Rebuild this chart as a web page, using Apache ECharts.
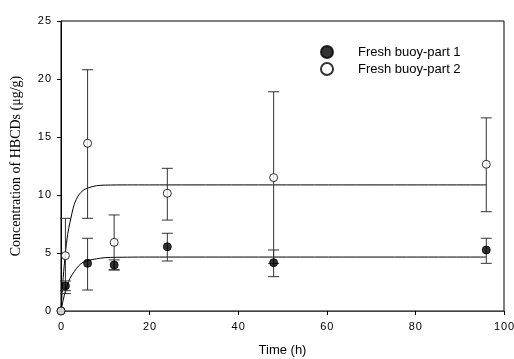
<!DOCTYPE html>
<html>
<head>
<meta charset="utf-8">
<script src="https://cdn.jsdelivr.net/npm/echarts@6/dist/echarts.min.js"></script>
<style>
  html, body { margin: 0; padding: 0; background: #fff; }
  #chart { width: 514px; height: 359px; }
</style>
</head>
<body>
<div id="chart"></div>
<script>
  // 采样时间 (h)
  var times = [0, 1, 6, 12, 24, 48, 96];

  // part 1 (实心点)
  var part1 = [0, 2.16, 4.11, 3.97, 5.54, 4.17, 5.26];
  var part1Low = [0, 1.75, 1.81, 3.53, 4.31, 2.96, 4.11];
  var part1High = [0, 2.59, 6.27, 4.41, 6.70, 5.26, 6.27];

  // part 2 (空心点)
  var part2 = [0, 4.77, 14.46, 5.92, 10.15, 11.5, 12.65];
  var part2Low = [0, 1.5, 7.99, 3.56, 7.84, 4.1, 8.56];
  var part2High = [0, 7.99, 20.8, 8.28, 12.3, 18.9, 16.65];

  // 拟合曲线
  var fitTime = [0, 0.5, 1, 1.5, 2, 3, 4, 5, 6, 8, 10, 15, 20, 96];
  var fit1 = [0, 0.95, 1.7, 2.3, 2.8, 3.4, 3.9, 4.2, 4.35, 4.5, 4.6, 4.64, 4.65, 4.65];
  var fit2 = [0, 2.9, 5.0, 6.6, 7.6, 9.2, 10.0, 10.4, 10.6, 10.8, 10.85, 10.87, 10.87, 10.87];

  var legendNames = ['Fresh buoy-part 1', 'Fresh buoy-part 2'];

  function pairs(xs, ys) {
    return xs.map(function (x, i) { return [x, ys[i]]; });
  }
  function bars(low, high) {
    return times.map(function (t, i) { return [t, low[i], high[i]]; });
  }
  // 刻度数字字间距
  function spaced(v) {
    return String(v).split('').join('\u200A');
  }

  function errorBar(params, api) {
    var lo = api.value(1), hi = api.value(2);
    if (lo === hi) return null;
    var a = api.coord([api.value(0), lo]);
    var b = api.coord([api.value(0), hi]);
    var w = 5.5;
    var st = { stroke: '#333', lineWidth: 1 };
    return {
      type: 'group',
      children: [
        { type: 'line', shape: { x1: a[0], y1: a[1], x2: b[0], y2: b[1] }, style: st },
        { type: 'line', shape: { x1: a[0] - w, y1: a[1], x2: a[0] + w, y2: a[1] }, style: st },
        { type: 'line', shape: { x1: b[0] - w, y1: b[1], x2: b[0] + w, y2: b[1] }, style: st }
      ]
    };
  }

  var myCharts = echarts.init(document.getElementById('chart'));

  var option = {
    animation: false,
    backgroundColor: '#fff',
    grid: {
      left: 61, right: 10, top: 21, bottom: 48,
      outerBoundsMode: 'none',
      containLabel: false,
      show: true, borderColor: '#000', borderWidth: 1
    },
    legend: {
      orient: 'vertical',
      left: 315, top: 40,
      itemGap: 3,
      itemWidth: 12, itemHeight: 12,
      data: legendNames,
      textStyle: {
        fontFamily: 'Liberation Sans, Arial, sans-serif',
        fontSize: 13, color: '#000',
        padding: [0, 0, 0, 20]
      }
    },
    xAxis: {
      type: 'value',
      min: 0, max: 100, interval: 20,
      name: 'Time (h)',
      nameLocation: 'middle',
      nameGap: 33,
      nameTextStyle: { fontFamily: 'Liberation Sans, Arial, sans-serif', fontSize: 13, color: '#000' },
      axisLine: { lineStyle: { color: '#444' } },
      axisTick: { inside: false, length: 4, lineStyle: { color: '#000' } },
      axisLabel: { margin: 10, fontFamily: 'Liberation Sans, Arial, sans-serif', fontSize: 11, color: '#000', formatter: spaced },
      splitLine: { show: false }
    },
    yAxis: {
      type: 'value',
      min: 0, max: 25, interval: 5,
      name: 'Concentration of HBCDs (μg/g)',
      nameLocation: 'middle',
      nameGap: 38,
      nameTextStyle: { fontFamily: 'Liberation Serif, Times New Roman, serif', fontSize: 14, color: '#000' },
      axisLine: { show: true, lineStyle: { color: '#000' } },
      axisTick: { show: true, inside: false, length: 4, lineStyle: { color: '#000' } },
      axisLabel: { margin: 10, fontFamily: 'Liberation Sans, Arial, sans-serif', fontSize: 11, color: '#000', formatter: spaced },
      splitLine: { show: false }
    },
    series: [
      {
        name: 'fit1', type: 'line', smooth: 0.3, showSymbol: false, silent: true,
        lineStyle: { color: '#000', width: 1 },
        data: pairs(fitTime, fit1), z: 2
      },
      {
        name: 'fit2', type: 'line', smooth: 0.3, showSymbol: false, silent: true,
        lineStyle: { color: '#000', width: 1 },
        data: pairs(fitTime, fit2), z: 2
      },
      {
        name: 'err1', type: 'custom', renderItem: errorBar,
        data: bars(part1Low, part1High), z: 3
      },
      {
        name: 'err2', type: 'custom', renderItem: errorBar,
        data: bars(part2Low, part2High), z: 3
      },
      {
        name: legendNames[0], type: 'scatter', symbol: 'circle', symbolSize: 8,
        itemStyle: { color: '#000', borderColor: '#000', borderWidth: 1 },
        data: pairs(times, part1), z: 5
      },
      {
        name: legendNames[1], type: 'scatter', symbol: 'circle', symbolSize: 8,
        itemStyle: { color: '#fff', borderColor: '#000', borderWidth: 1 },
        data: pairs(times, part2), z: 5
      }
    ]
  };
  myCharts.setOption(option);
</script>
</body>
</html>
